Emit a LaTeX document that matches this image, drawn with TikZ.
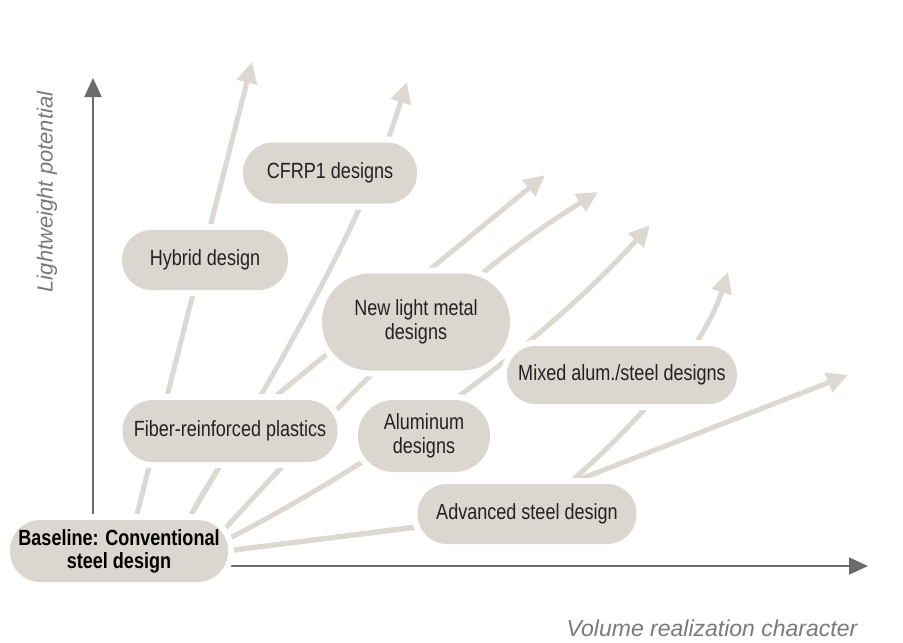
\documentclass[tikz,border=0pt]{standalone}
\usepackage{fontspec}
\setmainfont{Liberation Sans}
\newfontfamily\nodefont{Liberation Sans}[FakeStretch=0.82]
\usetikzlibrary{arrows.meta}
\definecolor{pillfill}{HTML}{DCD6D0}
\definecolor{flow}{HTML}{DED8D2}
\definecolor{axisgray}{HTML}{6B6B6B}
\definecolor{labelgray}{HTML}{7A7A7A}
\definecolor{txt}{HTML}{222222}
\begin{document}
\begin{tikzpicture}[x=1pt,y=-1pt,
  pill/.style={rectangle, fill=pillfill, preaction={draw=white, line width=12pt},
    text=txt, font=\nodefont\fontsize{22}{24}\selectfont, align=center, inner sep=0pt},
  flowarrow/.style={draw=flow, line width=5pt, line join=round,
    -{Triangle[length=21pt,width=20pt]}},
  axisarrow/.style={draw=axisgray, line width=2pt, -{Triangle[length=19pt,width=17pt]}},
  axislabel/.style={text=labelgray, inner sep=0pt}]
\useasboundingbox (0,0) rectangle (903,643);
\fill[white] (0,0) rectangle (903,643);

% start and tip coordinates
\coordinate (s1) at (135,522);
\coordinate (s2) at (187,522);
\coordinate (s3) at (222,532);
\coordinate (s4) at (226,540);
\coordinate (s5) at (226,551);
\coordinate (t1) at (252,62);
\coordinate (t2) at (407,82);
\coordinate (t3) at (545,175);
\coordinate (t4) at (598,192);
\coordinate (t5) at (650,225);
\coordinate (t6) at (728,272);
\coordinate (t7) at (848,375);
\coordinate (yfoot) at (93,550);
\coordinate (ytip) at (93,78);
\coordinate (xfoot) at (200,566);
\coordinate (xtip) at (868,566);

% axes
\draw[axisarrow] (yfoot) -- (ytip);
\draw[axisarrow] (xfoot) -- (xtip);

% flow arrows
\draw[flowarrow] (s1) -- (t1);
\draw[flowarrow] (s2) .. controls (277,368) and (360,232) .. (t2);
\draw[flowarrow] (s2) .. controls (210,480) and (240,430) .. (277,395) -- (t3);
\draw[flowarrow] (s3) .. controls (405,330) and (496,255) .. (t4);
\draw[flowarrow] (s4) .. controls (382,460) and (542,345) .. (t5);
\draw[flowarrow] (s5) -- (470,520) -- (555,495) .. controls (610,450) and (700,360) .. (t6);
\draw[flowarrow] (s5) -- (475,520) -- (t7);

% nodes
\node[pill, minimum width=218pt, minimum height=62pt, rounded corners=30.5pt,
  text=black, font=\nodefont\bfseries\fontsize{22}{23}\selectfont] (base) at (119,551)
  {Baseline: Conventional\\steel design};
\node[pill, minimum width=215pt, minimum height=62pt, rounded corners=30.5pt] (fiber) at (230,431) {Fiber-reinforced plastics};
\node[pill, minimum width=166pt, minimum height=60pt, rounded corners=29.5pt] (hybrid) at (205,260) {Hybrid design};
\node[pill, minimum width=174pt, minimum height=61pt, rounded corners=30pt] (cfrp) at (330,173) {CFRP1 designs};
\node[pill, minimum width=188pt, minimum height=97pt, rounded corners=48pt] (nlm) at (416,322) {New light metal\\designs};
\node[pill, minimum width=132pt, minimum height=72pt, rounded corners=35.5pt] (alu) at (424,436) {Aluminum\\designs};
\node[pill, minimum width=230pt, minimum height=58pt, rounded corners=28.5pt] (mixed) at (622,375) {Mixed alum./steel designs};
\node[pill, minimum width=219pt, minimum height=60pt, rounded corners=29.5pt] (adv) at (527,514) {Advanced steel design};

% axis labels
\node[axislabel, rotate=90, font=\fontsize{22}{24}\selectfont\itshape] (ylab) at (47,192) {Lightweight potential};
\node[axislabel, font=\fontsize{23}{25}\selectfont\itshape] (xlab) at (712,628) {Volume realization character};
\end{tikzpicture}
\end{document}
